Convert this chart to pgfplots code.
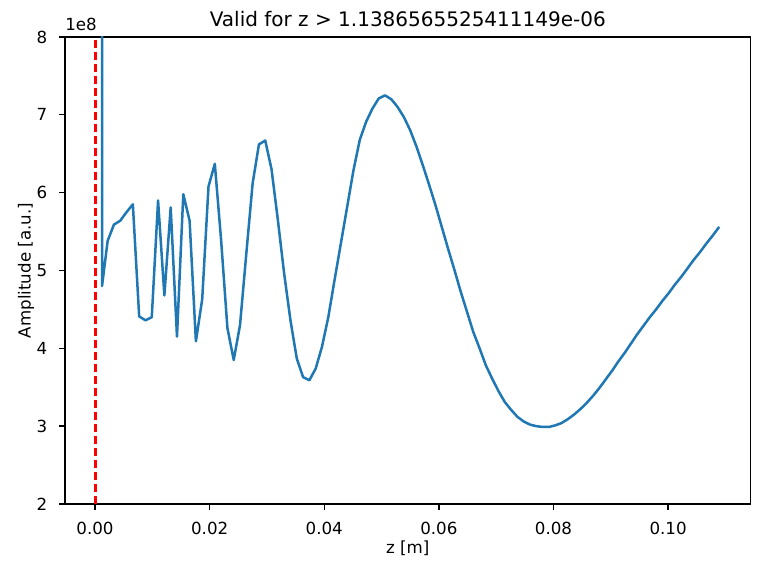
\documentclass[border=0pt]{standalone}
\usepackage{pgfplots}
\pgfplotsset{compat=1.18}
\usepackage{fontspec}
\setmainfont{DejaVu Sans}
\definecolor{mplblue}{HTML}{1F77B4}
\begin{document}
\fontsize{10bp}{12bp}\selectfont
\begin{tikzpicture}
\useasboundingbox (0,0) rectangle (460.8bp,345.6bp);
\begin{axis}[
  at={(39bp,43.2bp)}, anchor=south west,
  scale only axis,
  width=411.4bp, height=280.2bp,
  xmin=-0.00524, xmax=0.1144,
  ymin=2, ymax=8,
  clip mode=individual,
  axis line style={line width=0.8bp},
  every tick/.style={black, line width=0.8bp},
  tick align=outside,
  major tick length=3.5bp,
  tick pos=left,
  xtick={0,0.02,0.04,0.06,0.08,0.1},
  xticklabels={0.00,0.02,0.04,0.06,0.08,0.10},
  ytick={2,3,4,5,6,7,8},
  yticklabels={2,3,4,5,6,7,8},
  /pgf/number format/assume math mode=true,
  xticklabel style={anchor=north, inner sep=0pt, yshift=-7bp, font=\fontsize{10bp}{12bp}\selectfont},
  yticklabel style={anchor=east, inner sep=0pt, xshift=-7bp, font=\fontsize{10bp}{12bp}\selectfont},
  xlabel={z [m]},
  ylabel={Amplitude [a.u.]},
  every axis x label/.style={at={(axis description cs:0.5,-0.0942)}, anchor=center, font=\fontsize{10bp}{12bp}\selectfont},
  every axis y label/.style={at={(axis description cs:-0.0569,0.5)}, anchor=center, rotate=90, font=\fontsize{10bp}{12bp}\selectfont},
  title={Valid for z > 1.1386565525411149e-06},
  every axis title/.style={at={(axis description cs:0.5,1)}, anchor=south, inner sep=0pt, yshift=6bp, font=\fontsize{12bp}{14bp}\selectfont},
]
\addplot[mplblue, line width=1.5bp, line join=round] table {
x y
0.00122 12.0
0.00122 4.80
0.0022 5.38
0.0033 5.59
0.0044 5.64
0.0055 5.75
0.0066 5.85
0.0077 4.41
0.0088 4.36
0.0099 4.40
0.0110 5.90
0.0121 4.68
0.0132 5.81
0.0143 4.15
0.0154 5.98
0.0165 5.64
0.0176 4.09
0.0187 4.63
0.0198 6.08
0.0209 6.37
0.0220 5.39
0.0231 4.26
0.0242 3.85
0.0253 4.30
0.0264 5.22
0.0275 6.12
0.0286 6.62
0.0297 6.67
0.0308 6.30
0.0319 5.65
0.0330 4.96
0.0341 4.36
0.0352 3.87
0.0363 3.63
0.0374 3.59
0.0385 3.74
0.0396 4.02
0.0407 4.40
0.0418 4.88
0.0429 5.35
0.0440 5.82
0.0451 6.29
0.0462 6.68
0.0473 6.91
0.0484 7.08
0.0495 7.21
0.0506 7.25
0.0517 7.20
0.0528 7.10
0.0539 6.97
0.0550 6.80
0.0561 6.59
0.0572 6.35
0.0583 6.10
0.0594 5.84
0.0605 5.56
0.0616 5.28
0.0627 5.01
0.0638 4.73
0.0649 4.47
0.0660 4.21
0.0671 4.00
0.0682 3.78
0.0693 3.61
0.0704 3.45
0.0715 3.31
0.0726 3.21
0.0737 3.12
0.0748 3.06
0.0759 3.02
0.0770 3.00
0.0781 2.99
0.0792 2.99
0.0803 3.01
0.0814 3.04
0.0825 3.09
0.0836 3.15
0.0847 3.22
0.0858 3.30
0.0869 3.39
0.0880 3.49
0.0891 3.60
0.0902 3.71
0.0913 3.83
0.0924 3.94
0.0935 4.06
0.0946 4.18
0.0957 4.29
0.0968 4.40
0.0979 4.50
0.0990 4.61
0.1001 4.71
0.1012 4.82
0.1023 4.92
0.1034 5.03
0.1045 5.14
0.1056 5.24
0.1067 5.35
0.1078 5.45
0.1089 5.56
};
\addplot[red, line width=1.8bp, dash pattern=on 5bp off 2.2bp] coordinates {(0,2) (0,8)};
\node[anchor=south west, inner sep=0pt, yshift=3.3bp, font=\fontsize{10bp}{12bp}\selectfont] at (rel axis cs:0,1) {1e8};
\end{axis}
\end{tikzpicture}
\end{document}
